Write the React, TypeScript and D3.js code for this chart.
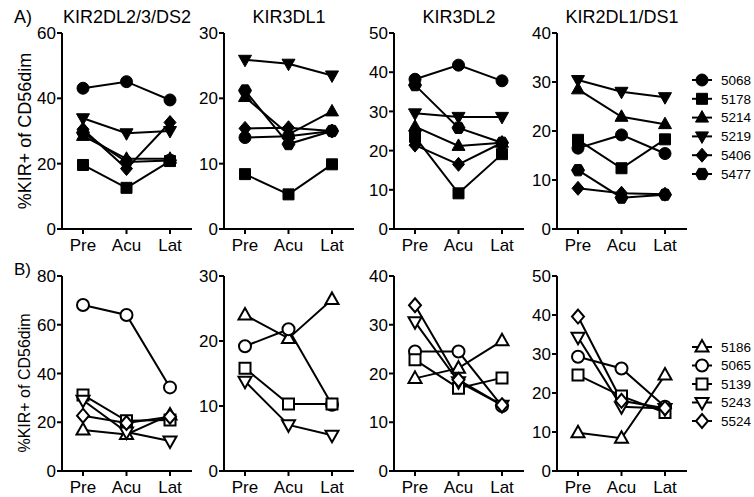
import React from 'react';
import * as d3 from 'd3';

// time points
const groups = ['Pre', 'Acu', 'Lat'];

// row A donors (filled symbols)
const donorsA = ['5068', '5178', '5214', '5219', '5406', '5477'];
const shapesA = ['circle', 'square', 'triangle', 'triangleDown', 'diamond', 'hexagon'];
// row B donors (open symbols)
const donorsB = ['5186', '5065', '5139', '5243', '5524'];
const shapesB = ['triangle', 'circle', 'square', 'triangleDown', 'diamond'];

const titles = ['KIR2DL2/3/DS2', 'KIR3DL1', 'KIR3DL2', 'KIR2DL1/DS1'];
const yMaxA = [60, 30, 50, 40];
const yMaxB = [80, 30, 40, 50];
const yStepA = [20, 10, 10, 10];
const yStepB = [20, 10, 10, 10];

// values per donor: [Pre, Acu, Lat]
const kir2dl23A = [[43.1, 45.1, 39.5], [19.6, 12.6, 20.8], [28.5, 21.5, 21.5], [33.9, 29.3, 30], [30.5, 18.5, 32.6], [29.5, 20.5, 21]];
const kir3dl1A = [[14, 14.2, 15], [8.4, 5.3, 9.9], [20.2, 14.5, 18], [25.9, 25.3, 23.5], [15.4, 15.5, 15], [21.2, 13, 15]];
const kir3dl2A = [[38.2, 41.8, 37.8], [23.5, 9.1, 19.1], [26.1, 21.2, 22], [29.5, 28.6, 28.6], [21.4, 16.5, 22], [36.7, 25.8, 22]];
const kir2dl1A = [[16.5, 19.2, 15.4], [18.2, 12.4, 18.3], [28.5, 22.9, 21.4], [30.4, 28, 26.9], [8.3, 7.3, 7.1], [12, 6.4, 7]];

const kir2dl23B = [[16.8, 15, 23], [68.1, 64, 34.3], [31.2, 20.6, 20.9], [29, 16, 12.3], [22.7, 19.7, 22.3]];
const kir3dl1B = [[24, 20.4, 26.4], [19.2, 21.8, 10.2], [15.8, 10.3, 10.3], [13.8, 7.1, 5.5], [] as number[]];
const kir3dl2B = [[19, 21.1, 26.7], [24.5, 24.5, 13.3], [22.8, 17, 19.1], [30.6, 18.3, 13.5], [34, 18.7, 13.5]];
const kir2dl1B = [[9.8, 8.4, 24.6], [29.3, 26.3, 16.5], [24.6, 19.2, 15], [34.3, 16.5, 16], [39.6, 18, 16.1]];

const dataA = [kir2dl23A, kir3dl1A, kir3dl2A, kir2dl1A];
const dataB = [kir2dl23B, kir3dl1B, kir3dl2B, kir2dl1B];

const axisX = [62, 224, 394, 557];
const font = '"Liberation Sans", Arial, Helvetica, sans-serif';

function shapePath(shape: string) {
  switch (shape) {
    case 'circle':
      return d3.symbol(d3.symbolCircle, Math.PI * 36)() as string;
    case 'square':
      return 'M-5.5,-5.5H5.5V5.5H-5.5Z';
    case 'triangle':
      return 'M0,-7L6.5,4.5L-6.5,4.5Z';
    case 'triangleDown':
      return 'M0,7L6.5,-4.5L-6.5,-4.5Z';
    case 'diamond':
      return 'M0,-7L6,0L0,7L-6,0Z';
    default: {
      const pts = d3.range(6).map(i => {
        const a = (Math.PI / 3) * i;
        return [6.5 * Math.cos(a), 6.5 * Math.sin(a)];
      });
      return 'M' + pts.map(p => p.join(',')).join('L') + 'Z';
    }
  }
}

function Panel({ x0, top, bottom, yMax, step, series, shapes, open }: any) {
  const x = d3.scalePoint().domain(groups).range([x0 + 21, x0 + 108]);
  const y = d3.scaleLinear().domain([0, yMax]).range([bottom, top]);
  const ticks = d3.range(0, yMax + 0.01, step);
  const line = d3.line<number>().x((_, i) => x(groups[i]) as number).y(d => y(d));
  return (
    <g>
      <line x1={x0} x2={x0} y1={top} y2={bottom + 1} stroke="#000" strokeWidth={2} />
      <line x1={x0 - 1} x2={x0 + 130} y1={bottom} y2={bottom} stroke="#000" strokeWidth={2} />
      {ticks.map(t => (
        <g key={t}>
          <line x1={x0 - 5} x2={x0} y1={y(t)} y2={y(t)} stroke="#000" strokeWidth={2} />
          <text x={x0 - 6} y={y(t)} dy="0.36em" textAnchor="end" fontSize={17}>{t}</text>
        </g>
      ))}
      {groups.map(g => (
        <g key={g}>
          <line x1={x(g)} x2={x(g)} y1={bottom} y2={bottom + 5} stroke="#000" strokeWidth={2} />
          <text x={x(g)} y={bottom + 22} textAnchor="middle" fontSize={17}>{g}</text>
        </g>
      ))}
      {series.map((s: number[], i: number) => s.length ? (
        <path key={'l' + i} d={line(s) as string} fill="none" stroke="#000" strokeWidth={2} />
      ) : null)}
      {series.map((s: number[], i: number) => s.map((v, j) => (
        <path key={'m' + i + j} d={shapePath(shapes[i])}
          transform={`translate(${x(groups[j])},${y(v)})`}
          fill={open ? '#fff' : '#000'} stroke="#000" strokeWidth={open ? 2 : 1} />
      )))}
    </g>
  );
}

function Legend({ x, y0, gap, donors, shapes, open }: any) {
  return (
    <g>
      {donors.map((d: string, i: number) => (
        <g key={d} transform={`translate(${x},${y0 + i * gap})`}>
          <line x1={-10} x2={10} stroke="#000" strokeWidth={2} />
          <path d={shapePath(shapes[i])} fill={open ? '#fff' : '#000'} stroke="#000" strokeWidth={open ? 2 : 1} />
          <text x={19} dy="0.36em" fontSize={13.5}>{d}</text>
        </g>
      ))}
    </g>
  );
}

export default function App() {
  return (
    <svg width={754} height={497} style={{ position: 'absolute', left: 0, top: 0, background: '#fff' }}
      fontFamily={font}>
      <text x={14} y={23} fontSize={18}>A)</text>
      <text x={14} y={275} fontSize={17}>B)</text>
      {titles.map((t, i) => (
        <text key={t} x={axisX[i] + 65} y={23} textAnchor="middle" fontSize={18}>{t}</text>
      ))}
      <text transform="translate(31,131) rotate(-90)" textAnchor="middle" fontSize={18}>%KIR+ of CD56dim</text>
      <text transform="translate(30,383) rotate(-90)" textAnchor="middle" fontSize={16}>%KIR+ of CD56dim</text>
      {dataA.map((s, i) => (
        <Panel key={'a' + i} x0={axisX[i]} top={33} bottom={229} yMax={yMaxA[i]} step={yStepA[i]}
          series={s} shapes={shapesA} open={false} />
      ))}
      {dataB.map((s, i) => (
        <Panel key={'b' + i} x0={axisX[i]} top={276} bottom={471} yMax={yMaxB[i]} step={yStepB[i]}
          series={s} shapes={shapesB} open={true} />
      ))}
      <Legend x={702} y0={80} gap={18.8} donors={donorsA} shapes={shapesA} open={false} />
      <Legend x={702} y0={347} gap={18.5} donors={donorsB} shapes={shapesB} open={true} />
    </svg>
  );
}
